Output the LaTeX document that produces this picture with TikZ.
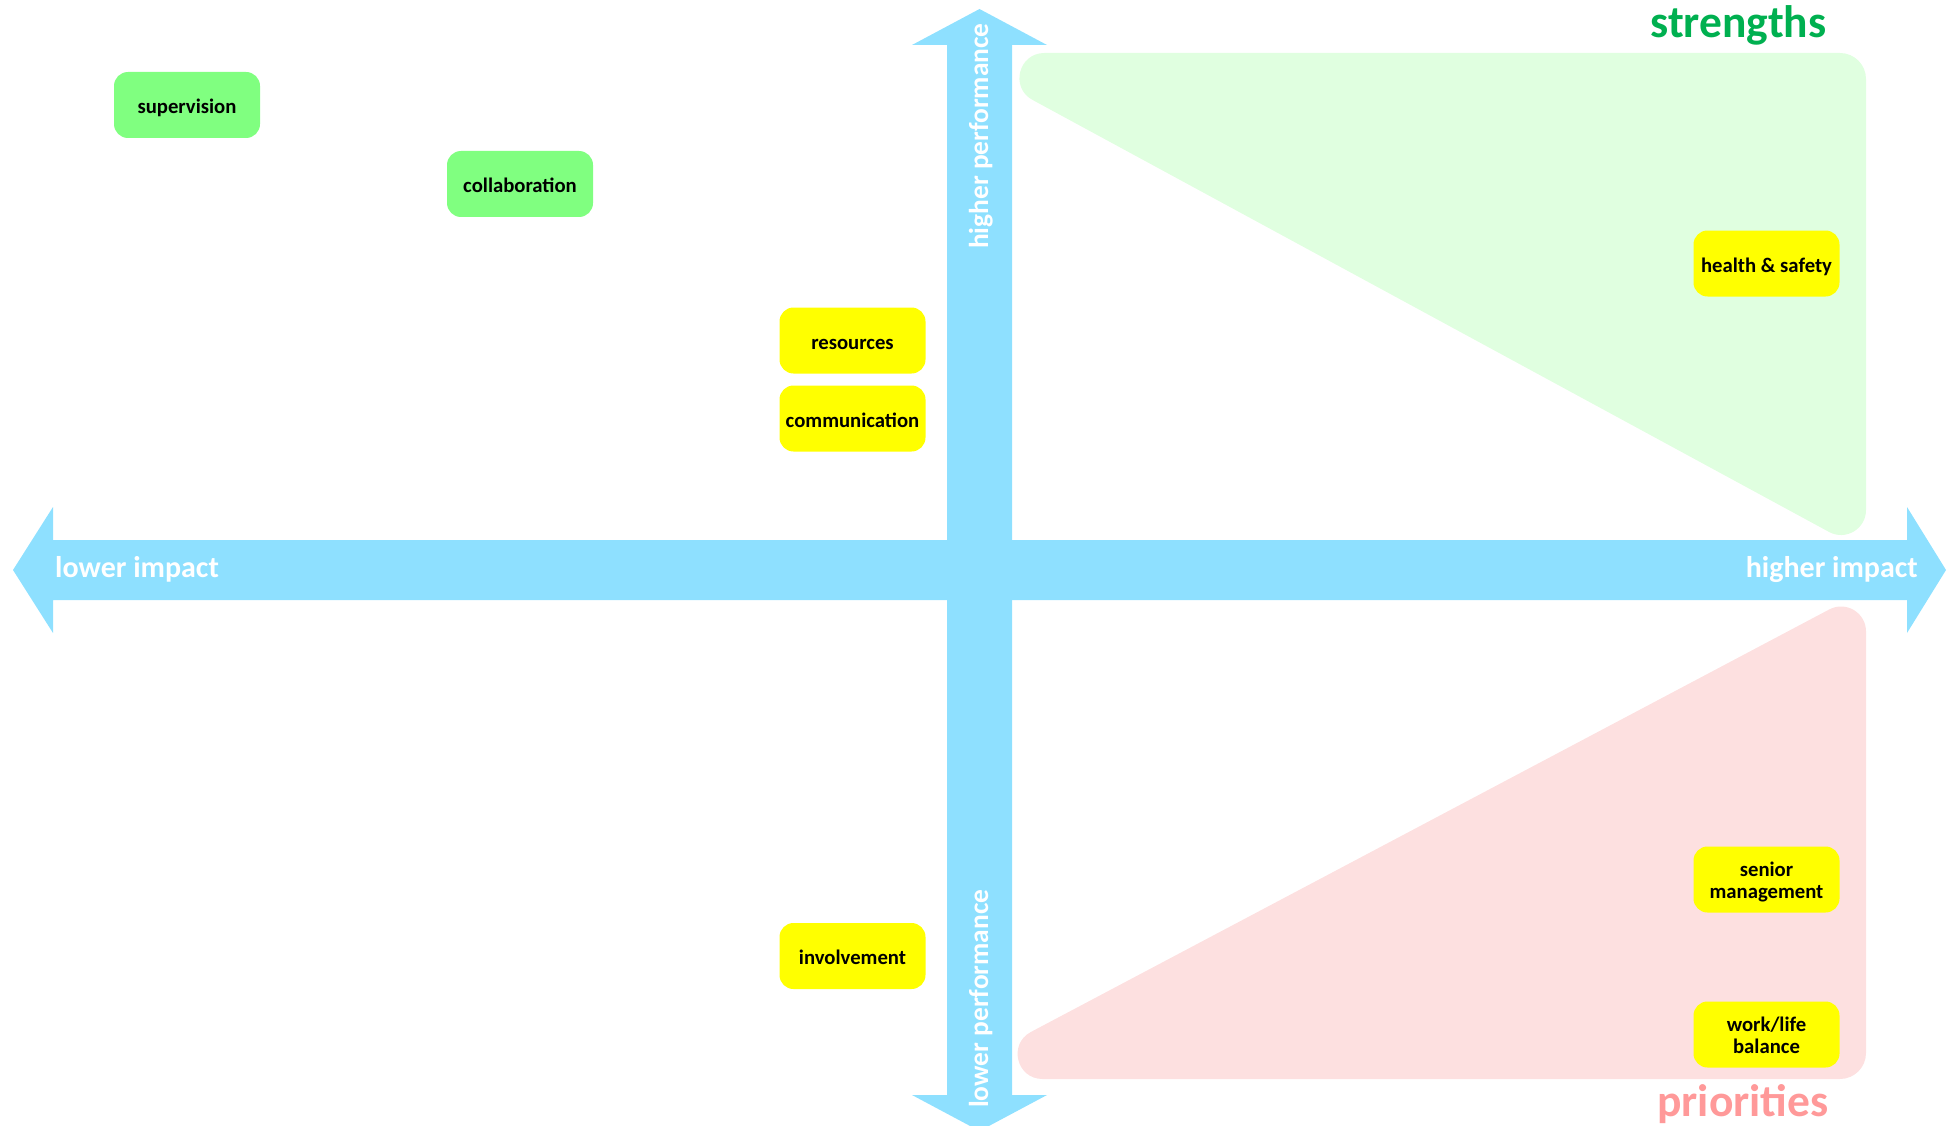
\documentclass[tikz,border=0pt]{standalone}
\usepackage{fontspec}
\setmainfont{Carlito}
\usetikzlibrary{calc}
\definecolor{arrowblue}{RGB}{142,224,255}
\definecolor{strgreen}{RGB}{224,255,224}
\definecolor{prired}{RGB}{253,224,224}
\definecolor{boxgreen}{RGB}{128,255,128}
\definecolor{boxyellow}{RGB}{255,255,0}
\definecolor{titlegreen}{RGB}{0,176,80}
\definecolor{titlepink}{RGB}{255,153,153}
\newcommand{\twoline}[2]{\raisebox{0pt}[39.5pt][2pt]{\begin{tabular}[b]{@{}c@{}}#1\\#2\end{tabular}}}
\begin{document}
\begin{tikzpicture}[x=1pt,y=-1pt,
  itembase/.style={rounded corners=14pt, minimum width=146pt, minimum height=66pt, inner sep=0pt, font=\bfseries\fontsize{20.7}{22}\selectfont, text=black},
  item/.style={itembase, text height=19pt, text depth=2pt},
  gitem/.style={item, fill=boxgreen},
  yitem/.style={item, fill=boxyellow},
  y2item/.style={itembase, fill=boxyellow},
  axislabel/.style={text=white, font=\bfseries\fontsize{30}{32}\selectfont, inner sep=0pt},
  vaxislabel/.style={axislabel, font=\bfseries\fontsize{27.4}{32}\selectfont, rotate=90, anchor=base west},
  title/.style={font=\bfseries\fontsize{45.5}{48}\selectfont, inner sep=0pt, anchor=base}]

\useasboundingbox (0,0) rectangle (1951,1126);

% strengths zone
\coordinate (gA) at (946,53);
\coordinate (gB) at (1866,53);
\coordinate (gC) at (1866,552);
\coordinate (gA1) at ($(gA)!98.4pt!(gB)$);
\coordinate (gA2) at ($(gA)!98.4pt!(gC)$);
\coordinate (gB1) at ($(gB)!26pt!(gA)$);
\coordinate (gB2) at ($(gB)!26pt!(gC)$);
\coordinate (gC1) at ($(gC)!42pt!(gB)$);
\coordinate (gC2) at ($(gC)!42pt!(gA)$);
\fill[strgreen] (gA1) -- (gB1)
  .. controls ($(gB1)!0.552!(gB)$) and ($(gB2)!0.552!(gB)$) .. (gB2) -- (gC1)
  .. controls ($(gC1)!0.451!(gC)$) and ($(gC2)!0.451!(gC)$) .. (gC2) -- (gA2)
  .. controls ($(gA2)!0.263!(gA)$) and ($(gA1)!0.263!(gA)$) .. (gA1) -- cycle;

% priorities zone
\coordinate (pA) at (942,1079);
\coordinate (pB) at (1866,1079);
\coordinate (pC) at (1866,590);
\coordinate (pA1) at ($(pA)!100.6pt!(pB)$);
\coordinate (pA2) at ($(pA)!100.6pt!(pC)$);
\coordinate (pB1) at ($(pB)!26pt!(pA)$);
\coordinate (pB2) at ($(pB)!26pt!(pC)$);
\coordinate (pC1) at ($(pC)!41.5pt!(pB)$);
\coordinate (pC2) at ($(pC)!41.5pt!(pA)$);
\fill[prired] (pA1) -- (pB1)
  .. controls ($(pB1)!0.552!(pB)$) and ($(pB2)!0.552!(pB)$) .. (pB2) -- (pC1)
  .. controls ($(pC1)!0.454!(pC)$) and ($(pC2)!0.454!(pC)$) .. (pC2) -- (pA2)
  .. controls ($(pA2)!0.259!(pA)$) and ($(pA1)!0.259!(pA)$) .. (pA1) -- cycle;

% axes
\fill[arrowblue] (13,570) -- (53,507) -- (53,540) -- (1907,540) -- (1907,507)
  -- (1946,570) -- (1907,633) -- (1907,600) -- (53,600) -- (53,633) -- cycle;
\fill[arrowblue] (979.5,9) -- (1047,45) -- (1012,45) -- (1012,1095) -- (1047,1095)
  -- (979.5,1131) -- (912,1095) -- (947,1095) -- (947,45) -- (912,45) -- cycle;

% axis labels
\node[axislabel, anchor=base west] (lowimp) at (55,577) {lower impact};
\node[axislabel, anchor=base east] (highimp) at (1918,577) {higher impact};
\node[vaxislabel] (highperf) at (988,249) {higher performance};
\node[vaxislabel] (lowperf) at (988,1108) {lower performance};

% titles
\node[title, text=titlegreen] (strengths) at (1738.5,38) {strengths};
\node[title, text=titlepink] (priorities) at (1743,1116) {priorities};

% items
\node[gitem] (supervision) at (187,105) {supervision};
\node[gitem] (collaboration) at (520,184) {collaboration};
\node[yitem] (resources) at (852.5,340.5) {resources};
\node[yitem] (communication) at (852.5,418.5) {communication};
\node[yitem] (involvement) at (852.5,956) {involvement};
\node[yitem] (health) at (1766.5,263.5) {health \& safety};
\node[y2item] (senior) at (1766.5,879.5) {\twoline{senior}{management}};
\node[y2item] (worklife) at (1766.5,1034.5) {\twoline{work/life}{balance}};
\end{tikzpicture}
\end{document}
